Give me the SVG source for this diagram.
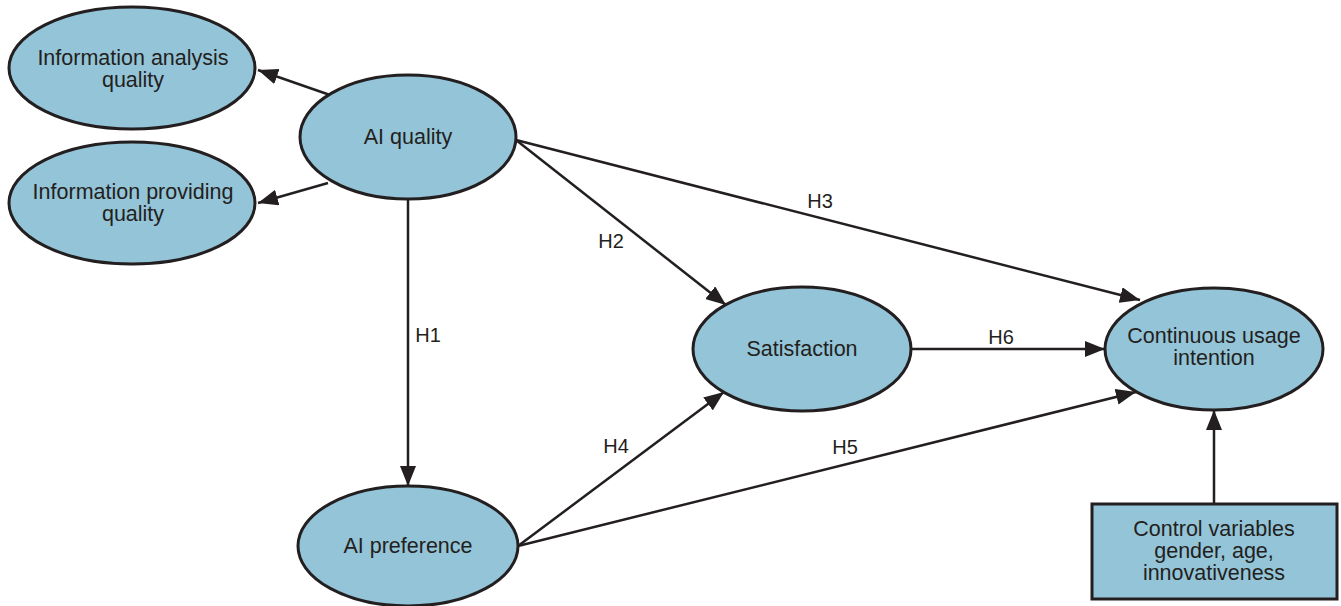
<svg xmlns="http://www.w3.org/2000/svg" width="1341" height="606" viewBox="0 0 1341 606">
<style>
.node{fill:#93c4d7;stroke:#231f20;stroke-width:3}
.lbl{font-family:"Liberation Sans",Arial,sans-serif;font-size:20px;fill:#231f20;text-anchor:middle}
.nt{font-size:21.5px}
.edge{stroke:#231f20;stroke-width:2.5;fill:none;marker-end:url(#ah)}
</style>
<defs>
<marker id="ah" markerUnits="userSpaceOnUse" markerWidth="22" markerHeight="16" refX="20" refY="8" orient="auto">
<path d="M0,0 L20,8 L0,16 Z" fill="#231f20"/>
</marker>
</defs>
<rect width="1341" height="606" fill="#ffffff"/>
<g id="connectors">
<line class="edge" x1="330" y1="95" x2="258" y2="70"/>
<line class="edge" x1="328" y1="183" x2="258" y2="203"/>
<line class="edge" x1="408" y1="200" x2="408" y2="486"/>
<line class="edge" x1="516" y1="140" x2="726" y2="305"/>
<line class="edge" x1="516" y1="140" x2="1140" y2="300"/>
<line class="edge" x1="911" y1="349" x2="1105" y2="349"/>
<line class="edge" x1="518" y1="546" x2="724" y2="392"/>
<line class="edge" x1="518" y1="546" x2="1136" y2="392"/>
<line class="edge" x1="1214" y1="504" x2="1214" y2="410"/>
<text class="lbl" x="428" y="342">H1</text>
<text class="lbl" x="611" y="248">H2</text>
<text class="lbl" x="820" y="208">H3</text>
<text class="lbl" x="616" y="453">H4</text>
<text class="lbl" x="845" y="454">H5</text>
<text class="lbl" x="1001" y="344">H6</text>
</g>
<g id="info-analysis">
<ellipse class="node" cx="132" cy="68" rx="123" ry="61"/>
<text class="lbl nt" x="133" y="65">Information analysis</text>
<text class="lbl nt" x="133" y="87">quality</text>
</g>
<g id="info-providing">
<ellipse class="node" cx="132" cy="203" rx="123" ry="61"/>
<text class="lbl nt" x="133" y="199">Information providing</text>
<text class="lbl nt" x="133" y="221">quality</text>
</g>
<g id="ai-quality">
<ellipse class="node" cx="408" cy="137" rx="108" ry="62"/>
<text class="lbl nt" x="408" y="144">AI quality</text>
</g>
<g id="ai-preference">
<ellipse class="node" cx="408" cy="546" rx="110" ry="60"/>
<text class="lbl nt" x="408" y="553">AI preference</text>
</g>
<g id="satisfaction">
<ellipse class="node" cx="802" cy="349" rx="109" ry="62"/>
<text class="lbl nt" x="802" y="356">Satisfaction</text>
</g>
<g id="continuous">
<ellipse class="node" cx="1214" cy="349" rx="109" ry="61"/>
<text class="lbl nt" x="1214" y="343">Continuous usage</text>
<text class="lbl nt" x="1214" y="365">intention</text>
</g>
<g id="control">
<rect class="node" x="1092" y="504" width="245" height="95"/>
<text class="lbl nt" x="1214" y="536">Control variables</text>
<text class="lbl nt" x="1214" y="558">gender, age,</text>
<text class="lbl nt" x="1214" y="580">innovativeness</text>
</g>
</svg>
